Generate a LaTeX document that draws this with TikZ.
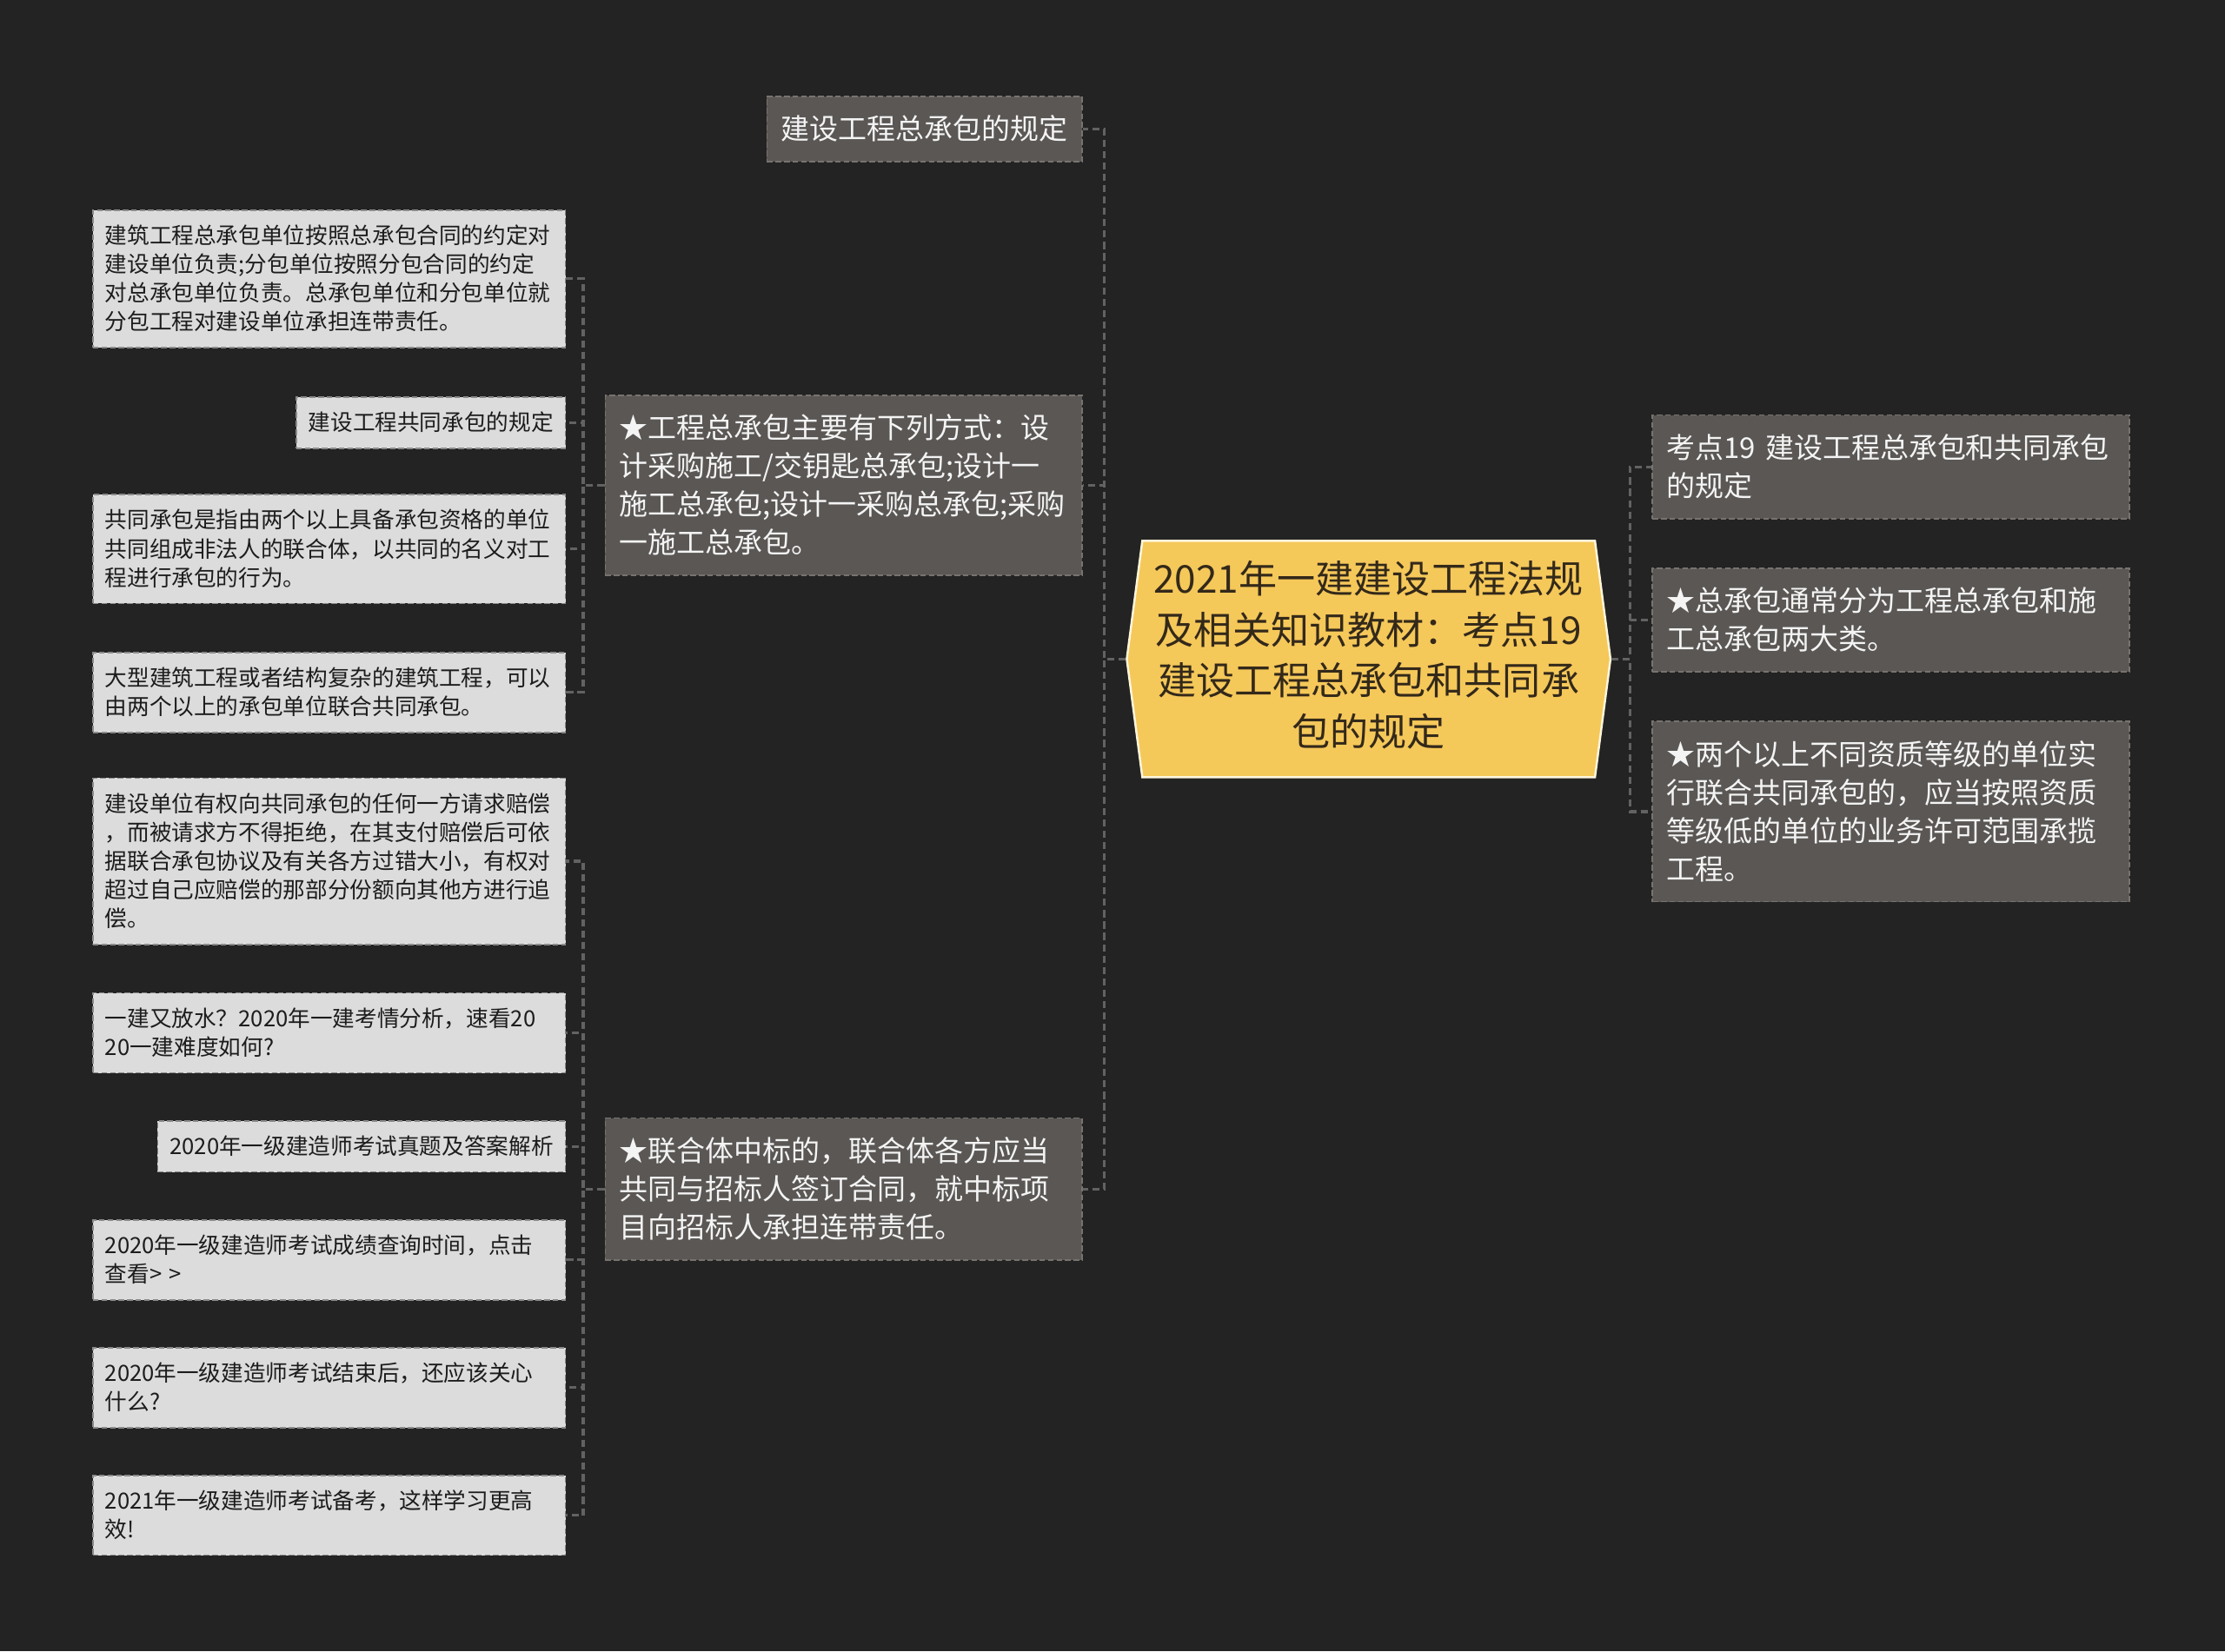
\documentclass[tikz,border=0pt]{standalone}
\usepackage{fontspec}
\setmainfont{Noto Sans CJK SC}
\usepackage{tikz}
\usetikzlibrary{shapes.symbols}

\definecolor{bgcol}{HTML}{232323}
\definecolor{rootcol}{HTML}{F5C85A}
\definecolor{rootline}{HTML}{FFF6DC}
\definecolor{roottext}{HTML}{33291A}
\definecolor{topiccol}{HTML}{5A5755}
\definecolor{topicline}{HTML}{77736F}
\definecolor{topictext}{HTML}{F4F4F4}
\definecolor{leafcol}{HTML}{DCDCDC}
\definecolor{leafline}{HTML}{8A8A8A}
\definecolor{leaftext}{HTML}{1C1C1C}
\definecolor{linecol}{HTML}{626262}

\newcommand{\linestrut}{\rule[-0.22\baselineskip]{0pt}{\baselineskip}}

\begin{document}
\begin{tikzpicture}[x=1pt, y=-1pt,
    root/.style={signal, signal to=west and east, signal pointer angle=165,
        fill=rootcol, draw=rootline, line width=1.5pt, text=roottext,
        align=center, inner xsep=8pt, inner ysep=14pt,
        font=\fontsize{27}{36}\selectfont,
        execute at begin node=\linestrut, execute at end node=\linestrut},
    topic/.style={fill=topiccol, draw=topicline, line width=1pt,
        dash pattern=on 4pt off 2pt, text=topictext, align=left,
        inner xsep=10pt, inner ysep=9.5pt,
        font=\fontsize{20.2}{27}\selectfont,
        execute at begin node=\linestrut, execute at end node=\linestrut},
    leaf/.style={fill=leafcol, draw=leafline, line width=1pt,
        dash pattern=on 4pt off 2pt, text=leaftext, align=left,
        inner xsep=8.5pt, inner ysep=7.85pt,
        font=\fontsize{15.7}{20.3}\selectfont,
        execute at begin node=\linestrut, execute at end node=\linestrut},
    wide/.style={text width=316pt},
    link/.style={draw=linecol, line width=2pt, dash pattern=on 5pt off 3pt}]

    \fill[bgcol] (0,0) rectangle (1568,1164);

    % centre
    \node[root] (root) at (964.5,464.5)
        {2021年一建建设工程法规\\及相关知识教材：考点19\\建设工程总承包和共同承\\包的规定};

    % left branch
    \node[topic, anchor=east] (A) at (763,91) {建设工程总承包的规定};
    \node[topic, wide, anchor=east] (B) at (763,342)
        {★工程总承包主要有下列方式：设\\计采购施工/交钥匙总承包;设计一\\施工总承包;设计一采购总承包;采购\\一施工总承包。};
    \node[topic, wide, anchor=east] (C) at (763,838)
        {★联合体中标的，联合体各方应当\\共同与招标人签订合同，就中标项\\目向招标人承担连带责任。};

    % right branch
    \node[topic, wide, anchor=west] (R1) at (1164,329)
        {考点19 建设工程总承包和共同承包\\的规定};
    \node[topic, wide, anchor=west] (R2) at (1164,437)
        {★总承包通常分为工程总承包和施\\工总承包两大类。};
    \node[topic, wide, anchor=west] (R3) at (1164,572)
        {★两个以上不同资质等级的单位实\\行联合共同承包的，应当按照资质\\等级低的单位的业务许可范围承揽\\工程。};

    % leaves
    \node[leaf, wide, anchor=east] (L1) at (399,196.5)
        {建筑工程总承包单位按照总承包合同的约定对\\建设单位负责;分包单位按照分包合同的约定\\对总承包单位负责。总承包单位和分包单位就\\分包工程对建设单位承担连带责任。};
    \node[leaf, anchor=east] (L2) at (399,298) {建设工程共同承包的规定};
    \node[leaf, wide, anchor=east] (L3) at (399,387)
        {共同承包是指由两个以上具备承包资格的单位\\共同组成非法人的联合体，以共同的名义对工\\程进行承包的行为。};
    \node[leaf, wide, anchor=east] (L4) at (399,488)
        {大型建筑工程或者结构复杂的建筑工程，可以\\由两个以上的承包单位联合共同承包。};
    \node[leaf, wide, anchor=east] (L5) at (399,607)
        {建设单位有权向共同承包的任何一方请求赔偿\\，而被请求方不得拒绝，在其支付赔偿后可依\\据联合承包协议及有关各方过错大小，有权对\\超过自己应赔偿的那部分份额向其他方进行追\\偿。};
    \node[leaf, wide, anchor=east] (L6) at (399,728)
        {一建又放水？2020年一建考情分析，速看20\\20一建难度如何?};
    \node[leaf, anchor=east] (L7) at (399,808) {2020年一级建造师考试真题及答案解析};
    \node[leaf, wide, anchor=east] (L8) at (399,888)
        {2020年一级建造师考试成绩查询时间，点击\\查看> >};
    \node[leaf, wide, anchor=east] (L9) at (399,978)
        {2020年一级建造师考试结束后，还应该关心\\什么?};
    \node[leaf, wide, anchor=east] (L10) at (399,1068)
        {2021年一级建造师考试备考，这样学习更高\\效!};

    % connectors
    \foreach \n in {A,B,C}
        \draw[link] (root.west) -- ++(-15,0) |- (\n.east);
    \foreach \n in {R1,R2,R3}
        \draw[link] (root.east) -- ++(13,0) |- (\n.west);
    \foreach \n in {L1,L2,L3,L4}
        \draw[link] (B.west) -- ++(-15,0) |- (\n.east);
    \foreach \n in {L5,L6,L7,L8,L9,L10}
        \draw[link] (C.west) -- ++(-15,0) |- (\n.east);
\end{tikzpicture}
\end{document}
